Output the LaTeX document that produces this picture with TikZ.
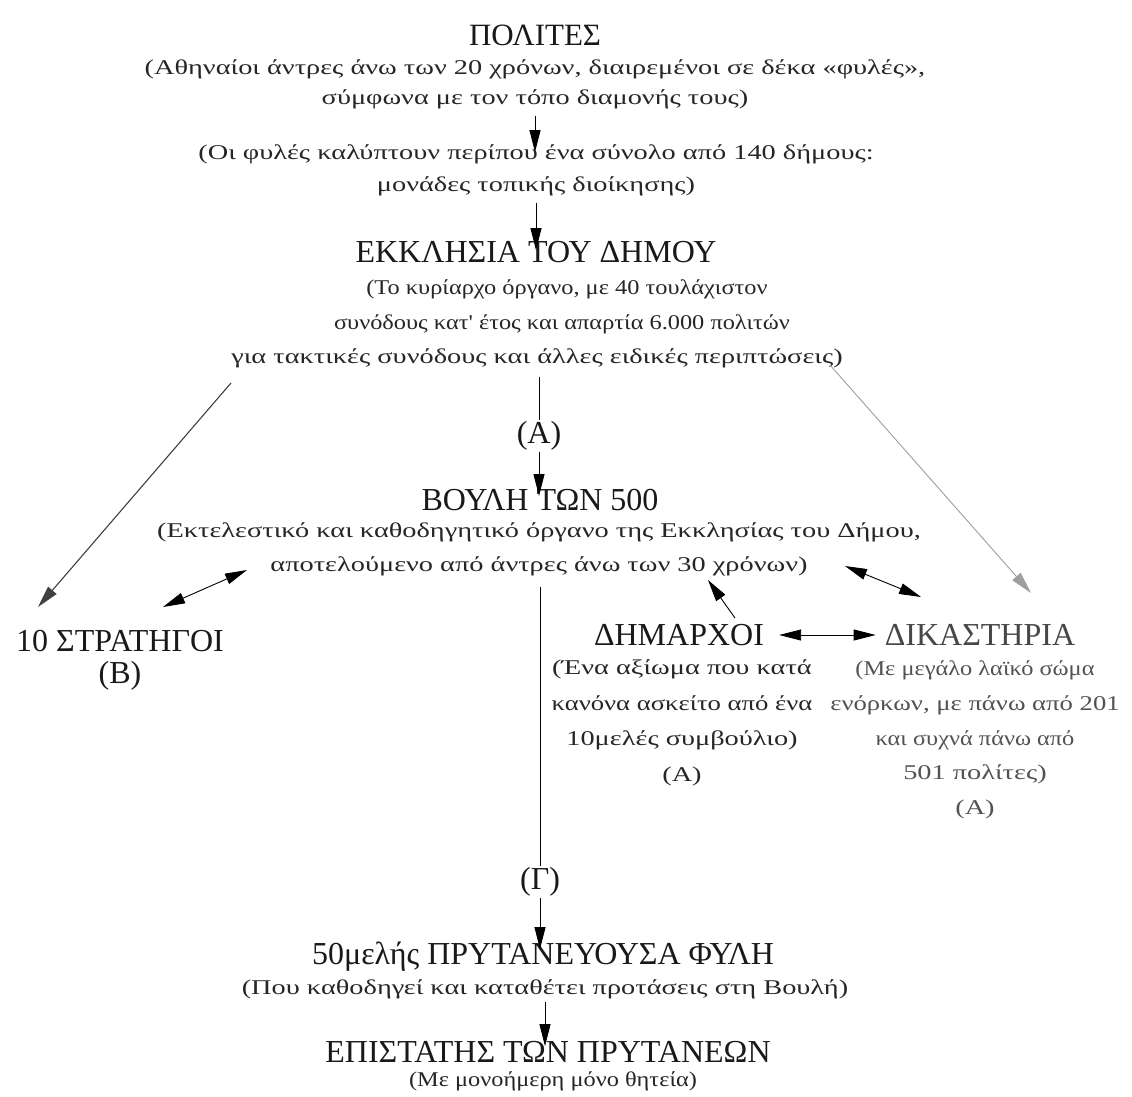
\documentclass[tikz,border=0pt]{standalone}
\usepackage{fontspec}
\setmainfont{Liberation Serif}
\newfontfamily\nw[FakeStretch=1.35]{Liberation Serif}
\newfontfamily\nm[FakeStretch=1.27]{Liberation Serif}
\newfontfamily\nn[FakeStretch=1.16]{Liberation Serif}
\usetikzlibrary{arrows.meta,calc}
\tikzset{
  ttl/.style={font=\fontsize{32}{35}\selectfont, inner sep=1pt, text=black!90},
  note/.style={font=\nw\fontsize{21}{#1}\selectfont, align=center, inner sep=1pt, text=black!85},
  note/.default=32,
  arr/.style={line width=0.9pt, -{Triangle[length=22pt,width=11pt]}},
  dbl/.style={line width=0.9pt, {Triangle[length=22pt,width=11pt]}-{Triangle[length=22pt,width=11pt]}},
  plain/.style={line width=0.9pt},
}
\begin{document}
\begin{tikzpicture}[x=1pt,y=-1pt]
\useasboundingbox[fill=white] (0,0) rectangle (1132,1097);
% nodes
\node[ttl,font=\fontsize{31}{34}\selectfont] (politai) at (535,35) {ΠΟΛΙΤΕΣ};
\node[note=30] (politaid) at (535,84) {(Αθηναίοι άντρες άνω των 20 χρόνων, διαιρεμένοι σε δέκα «φυλές»,\\σύμφωνα με τον τόπο διαμονής τους)};
\node[note=32] (fyles) at (536,170) {(Οι φυλές καλύπτουν περίπου ένα σύνολο από 140 δήμους:\\μονάδες τοπικής διοίκησης)};
\node[ttl] (ekkl) at (536,252) {ΕΚΚΛΗΣΙΑ ΤΟΥ ΔΗΜΟΥ};
\node[note=34.5] (ekkld) at (537,324) {\hspace*{60pt}{\nn(Το κυρίαρχο όργανο, με 40 τουλάχιστον}\\\hspace*{50pt}{\nn συνόδους κατ' έτος και απαρτία 6.000 πολιτών}\\για τακτικές συνόδους και άλλες ειδικές περιπτώσεις)};
\node[ttl] (labA) at (539,436) {(Α)};
\node[ttl] (vouli) at (540,500) {ΒΟΥΛΗ ΤΩΝ 500};
\node[note=34] (voulid) at (539,549) {(Εκτελεστικό και καθοδηγητικό όργανο της Εκκλησίας του Δήμου,\\αποτελούμενο από άντρες άνω των 30 χρόνων)};
\node[ttl] (strat) at (120,641) {10 ΣΤΡΑΤΗΓΟΙ};
\node[ttl] (stratB) at (120,676) {(Β)};
\node[ttl] (dim) at (679,635) {ΔΗΜΑΡΧΟΙ};
\node[note=35.5] (dimd) at (682,723) {(Ένα αξίωμα που κατά\\{\nm κανόνα ασκείτο από ένα}\\10μελές συμβούλιο)\\(Α)};
\node[ttl,text=black!72] (dik) at (980,635) {ΔΙΚΑΣΤΗΡΙΑ};
\node[note=34.8,text=black!68] (dikd) at (975,740) {{\nn(Με μεγάλο λαϊκό σώμα}\\{\nm ενόρκων, με πάνω από 201}\\{\nn και συχνά πάνω από}\\501 πολίτες)\\(Α)};
\node[ttl] (labG) at (540,882) {(Γ)};
\node[ttl] (pryt) at (543,957) {50μελής ΠΡΥΤΑΝΕΥΟΥΣΑ ΦΥΛΗ};
\node[note] (prytd) at (545,989) {(Που καθοδηγεί και καταθέτει προτάσεις στη Βουλή)};
\node[ttl] (epist) at (548,1052) {ΕΠΙΣΤΑΤΗΣ ΤΩΝ ΠΡΥΤΑΝΕΩΝ};
\node[note] (epistd) at (553,1081) {{\nn(Με μονοήμερη μόνο θητεία)}};
% free ends
\coordinate (ekL) at (231,383);
\coordinate (ekR) at (830,365);
\coordinate (strT) at (38,607);
\coordinate (dikT) at (1031,593);
\coordinate (strR) at (163,607);
\coordinate (vL) at (247,570);
\coordinate (vR) at (845,566);
\coordinate (dikL) at (921,597);
\coordinate (dimT) at (735,618);
\coordinate (vM) at (708,580);
% connectors
\draw[arr] ($(politaid.south)+(0,6)$) -- ($(politaid.south |- fyles.north)+(0,9)$);
\draw[arr] ($(fyles.south)+(0,6)$) -- ($(fyles.south |- ekkl.north)+(0,10)$);
\draw[plain] ($(ekkld.south -| labA)+(0,8)$) -- (labA.north);
\draw[arr] (labA.south) -- ($(labA.south |- vouli.north)+(0,8)$);
\draw[arr,draw=black!75,line width=1.1pt] (ekL) -- (strT);
\draw[arr,draw=black!38] (ekR) -- (dikT);
\draw[dbl] (strR) -- (vL);
\draw[arr] (dimT) -- (vM);
\draw[dbl] (vR) -- (dikL);
\draw[dbl] ($(dim.east)+(14,0)$) -- ($(dik.west)+(-8,0)$);
\draw[plain] ($(voulid.south -| labG)+(0,10)$) -- (labG.north);
\draw[arr] (labG.south) -- ($(labG.south |- pryt.north)+(0,8)$);
\draw[arr] ($(prytd.south)+(0,2)$) -- ($(prytd.south |- epist.north)+(0,6)$);
\end{tikzpicture}
\end{document}
